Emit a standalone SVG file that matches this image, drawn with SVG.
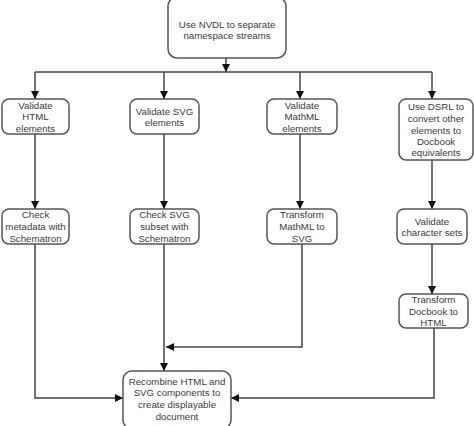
<svg xmlns="http://www.w3.org/2000/svg" width="474" height="426" viewBox="0 0 474 426">
<defs>
<marker id="ah" viewBox="0 0 10 10" refX="10" refY="5" markerWidth="8" markerHeight="8" markerUnits="userSpaceOnUse" orient="auto">
<path d="M0,0 L10,5 L0,10 z" fill="#111"/>
</marker>
<style>
.box{fill:#fff;stroke:#555;stroke-width:1.5}
.t{font-family:"Liberation Sans",Arial,sans-serif;font-size:9.7px;fill:#3a3a3a;text-anchor:middle}
.c{fill:none;stroke:#444;stroke-width:1.5}
.ca{fill:none;stroke:#444;stroke-width:1.5;marker-end:url(#ah)}
</style>
</defs>
<rect width="474" height="426" fill="#fff"/>
<g id="connectors">
<path class="ca" d="M226,58 V72"/>
<path class="c" d="M35,72 H432"/>
<path class="ca" d="M35,72 V99"/>
<path class="ca" d="M164,72 V99"/>
<path class="ca" d="M300,72 V99"/>
<path class="ca" d="M432,72 V99"/>
<path class="ca" d="M35,134 V209"/>
<path class="ca" d="M164,134 V209"/>
<path class="ca" d="M300,134 V209"/>
<path class="ca" d="M432,160 V209"/>
<path class="ca" d="M432,244 V294"/>
<path class="ca" d="M35,244 V398 H123"/>
<path class="ca" d="M434,328 V398 H231"/>
<path class="ca" d="M164,244 V371"/>
<path class="ca" d="M302,244 V347 H166"/>
</g>
<g id="n_nvdl">
<rect class="box" x="168" y="-3" width="118" height="61" rx="9"/>
<text class="t" x="227" y="28">Use NVDL to separate</text>
<text class="t" x="227" y="39">namespace streams</text>
</g>
<g id="n_vhtml">
<rect class="box" x="2" y="99" width="67" height="35" rx="7"/>
<text class="t" x="35.5" y="109">Validate</text>
<text class="t" x="35.5" y="120">HTML</text>
<text class="t" x="35.5" y="132">elements</text>
</g>
<g id="n_vsvg">
<rect class="box" x="130" y="99" width="69" height="35" rx="7"/>
<text class="t" x="164.5" y="115">Validate SVG</text>
<text class="t" x="164.5" y="126">elements</text>
</g>
<g id="n_vmathml">
<rect class="box" x="267" y="99" width="70" height="35" rx="7"/>
<text class="t" x="302" y="109">Validate</text>
<text class="t" x="302" y="120">MathML</text>
<text class="t" x="302" y="132">elements</text>
</g>
<g id="n_dsrl">
<rect class="box" x="399" y="99" width="74" height="61" rx="7"/>
<text class="t" x="436" y="110">Use DSRL to</text>
<text class="t" x="436" y="122">convert other</text>
<text class="t" x="436" y="134">elements to</text>
<text class="t" x="436" y="145">Docbook</text>
<text class="t" x="436" y="156">equivalents</text>
</g>
<g id="n_meta">
<rect class="box" x="2" y="209" width="67" height="35" rx="7"/>
<text class="t" x="35.5" y="218">Check</text>
<text class="t" x="35.5" y="230">metadata with</text>
<text class="t" x="35.5" y="242">Schematron</text>
</g>
<g id="n_svgsub">
<rect class="box" x="130" y="209" width="69" height="35" rx="7"/>
<text class="t" x="164.5" y="218">Check SVG</text>
<text class="t" x="164.5" y="230">subset with</text>
<text class="t" x="164.5" y="242">Schematron</text>
</g>
<g id="n_tmathml">
<rect class="box" x="267" y="209" width="70" height="35" rx="7"/>
<text class="t" x="302" y="218">Transform</text>
<text class="t" x="302" y="230">MathML to</text>
<text class="t" x="302" y="242">SVG</text>
</g>
<g id="n_charsets">
<rect class="box" x="397" y="209" width="70" height="35" rx="7"/>
<text class="t" x="432" y="225">Validate</text>
<text class="t" x="432" y="236">character sets</text>
</g>
<g id="n_docbook">
<rect class="box" x="399" y="294" width="69" height="34" rx="7"/>
<text class="t" x="433.5" y="303">Transform</text>
<text class="t" x="433.5" y="315">Docbook to</text>
<text class="t" x="433.5" y="326">HTML</text>
</g>
<g id="n_recombine">
<rect class="box" x="123" y="371" width="108" height="58" rx="9"/>
<text class="t" x="177" y="385">Recombine HTML and</text>
<text class="t" x="177" y="396">SVG components to</text>
<text class="t" x="177" y="408">create displayable</text>
<text class="t" x="177" y="420">document</text>
</g>
</svg>
